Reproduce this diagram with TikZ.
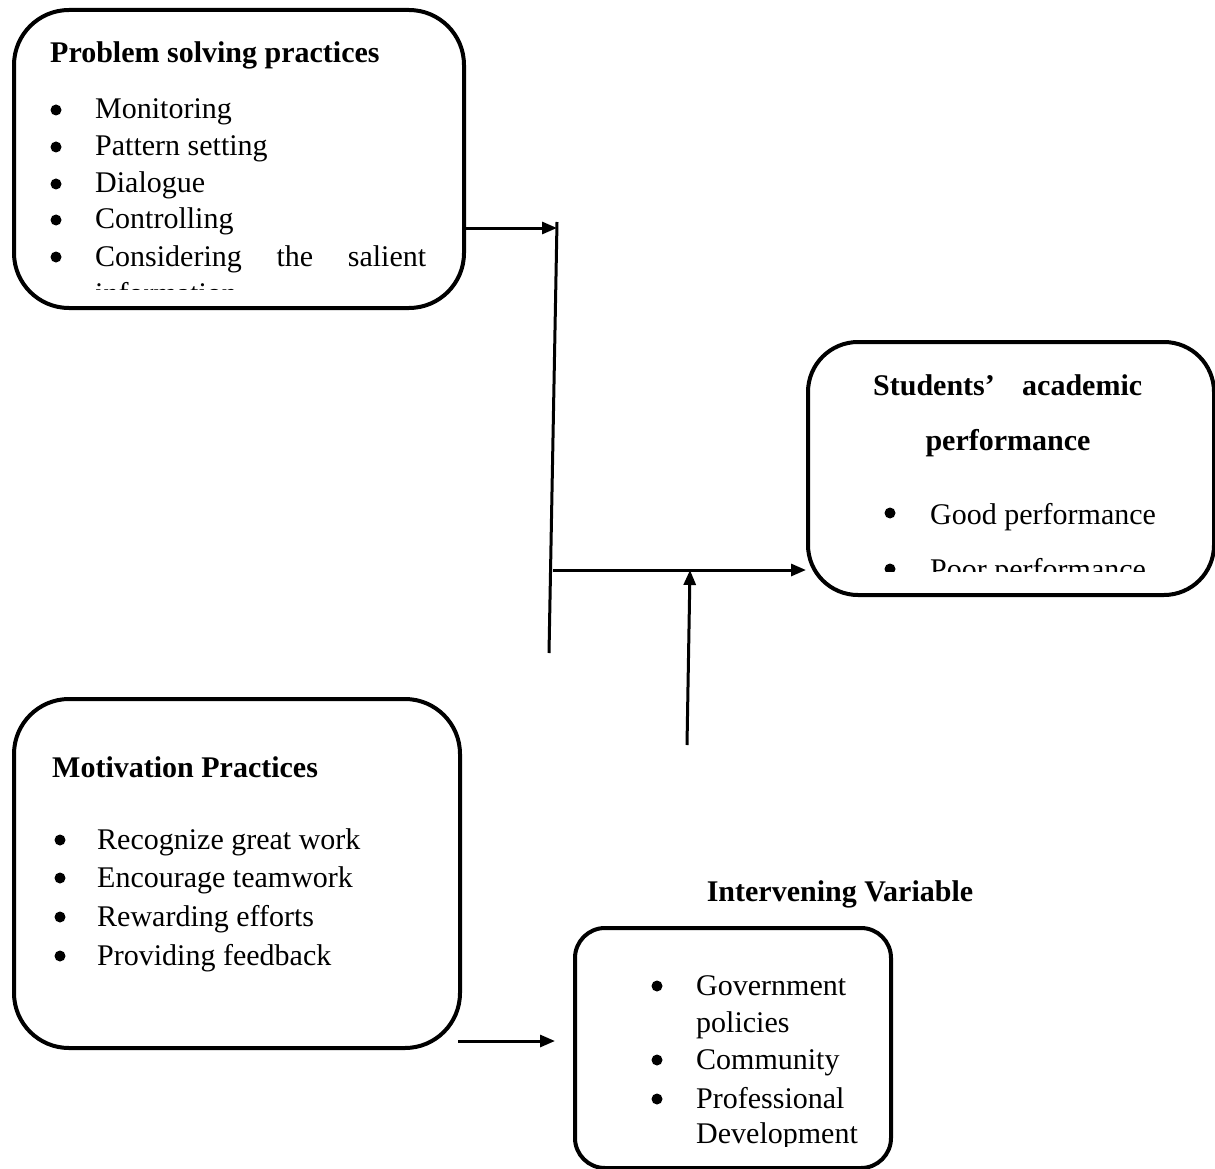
\documentclass[tikz,border=0pt]{standalone}
\usepackage{fontspec}
\setmainfont{Liberation Serif}
\usetikzlibrary{arrows.meta}
\begin{document}
\begin{tikzpicture}[x=1pt,y=-1pt,
  box/.style={draw, line width=4pt, rounded corners=#1, inner sep=0pt},
  box/.default=55pt,
  txt/.style={anchor=base west, inner sep=0pt, yshift=-1pt, font=\fontsize{30}{37}\selectfont},
  ttl/.style={txt, font=\fontsize{30}{37}\selectfont\bfseries},
  bdot/.style={circle, draw=none, fill=black, inner sep=0pt, minimum size=11pt},
  conn/.style={line width=3pt},
  arr/.style={conn, -{Triangle[length=15pt,width=12pt]}}
]
\useasboundingbox (0,0) rectangle (1215,1169);

% boxes
\node[box, minimum width=450pt, minimum height=298pt, anchor=north west] (ps) at (12,8) {};
\node[box=50pt, minimum width=406pt, minimum height=253pt, anchor=north west] (sa) at (806,340) {};
\node[box, minimum width=446pt, minimum height=349pt, anchor=north west] (mp) at (12,697) {};
\node[box=30pt, minimum width=316pt, minimum height=240pt, anchor=north west] (iv) at (573,926) {};

% Problem solving practices
\node[ttl] (pst) at (50,62) {Problem solving practices};
\node[bdot] (psb1) at (56,110) {};
\node[txt] (ps1) at (95,118) {Monitoring};
\node[bdot] (psb2) at (56,147) {};
\node[txt] (ps2) at (95,155) {Pattern setting};
\node[bdot] (psb3) at (56,184) {};
\node[txt] (ps3) at (95,192) {Dialogue};
\node[bdot] (psb4) at (56,220) {};
\node[txt] (ps4) at (95,228) {Controlling};
\node[bdot] (psb5) at (56,257) {};
\node[txt] (ps5) at (95,265) {\makebox[331pt][s]{Considering the salient}};
\begin{scope}
  \clip (60,271) rectangle (460,289);
  \node[txt] (ps6) at (95,302) {information};
\end{scope}

% Students' academic performance
\node[ttl] (sat1) at (873,394) {\makebox[269pt][s]{Students’ academic}};
\node[ttl, anchor=base] (sat2) at (1008,449) {performance};
\node[bdot] (sab1) at (890,513) {};
\node[txt] (sa1) at (930,523) {Good performance};
\begin{scope}
  \clip (860,540) rectangle (1200,571);
  \node[bdot] (sab2) at (890,569) {};
  \node[txt] (sa2) at (930,578) {Poor performance};
\end{scope}

% Motivation Practices
\node[ttl] (mpt) at (52,776) {Motivation Practices};
\node[bdot] (mpb1) at (60,840) {};
\node[txt] (mp1) at (97,848) {Recognize great work};
\node[bdot] (mpb2) at (60,878) {};
\node[txt] (mp2) at (97,886) {Encourage teamwork};
\node[bdot] (mpb3) at (60,917) {};
\node[txt] (mp3) at (97,925) {Rewarding efforts};
\node[bdot] (mpb4) at (60,956) {};
\node[txt] (mp4) at (97,964) {Providing feedback};

% Intervening variable
\node[ttl, anchor=base] (ivt) at (840,900) {Intervening Variable};
\node[bdot] (ivb1) at (657,986) {};
\node[txt] (iv1) at (696,994) {Government};
\node[txt] (iv1b) at (696,1031) {policies};
\node[bdot] (ivb2) at (657,1060) {};
\node[txt] (iv2) at (696,1068) {Community};
\node[bdot] (ivb3) at (657,1099) {};
\node[txt] (iv3) at (696,1107) {Professional};
\begin{scope}
  \clip (600,1110) rectangle (880,1146);
  \node[txt] (iv4) at (696,1142) {Development};
\end{scope}

% connectors
\coordinate (a1s) at (462,228);
\coordinate (vtop) at (557,222);
\coordinate (vbot) at (549,653);
\coordinate (hs) at (553,570);
\coordinate (ups) at (687,745);
\coordinate (upe) at (690,570);
\coordinate (a4s) at (458,1041);
\coordinate (a4e) at (555,1041);

\draw[arr] (a1s) -- (vtop |- a1s);
\draw[conn] (vtop) -- (vbot);
\draw[arr] (hs) -- (sa.west |- hs);
\draw[arr] (ups) -- (upe);
\draw[arr] (a4s) -- (a4e);
\end{tikzpicture}
\end{document}
